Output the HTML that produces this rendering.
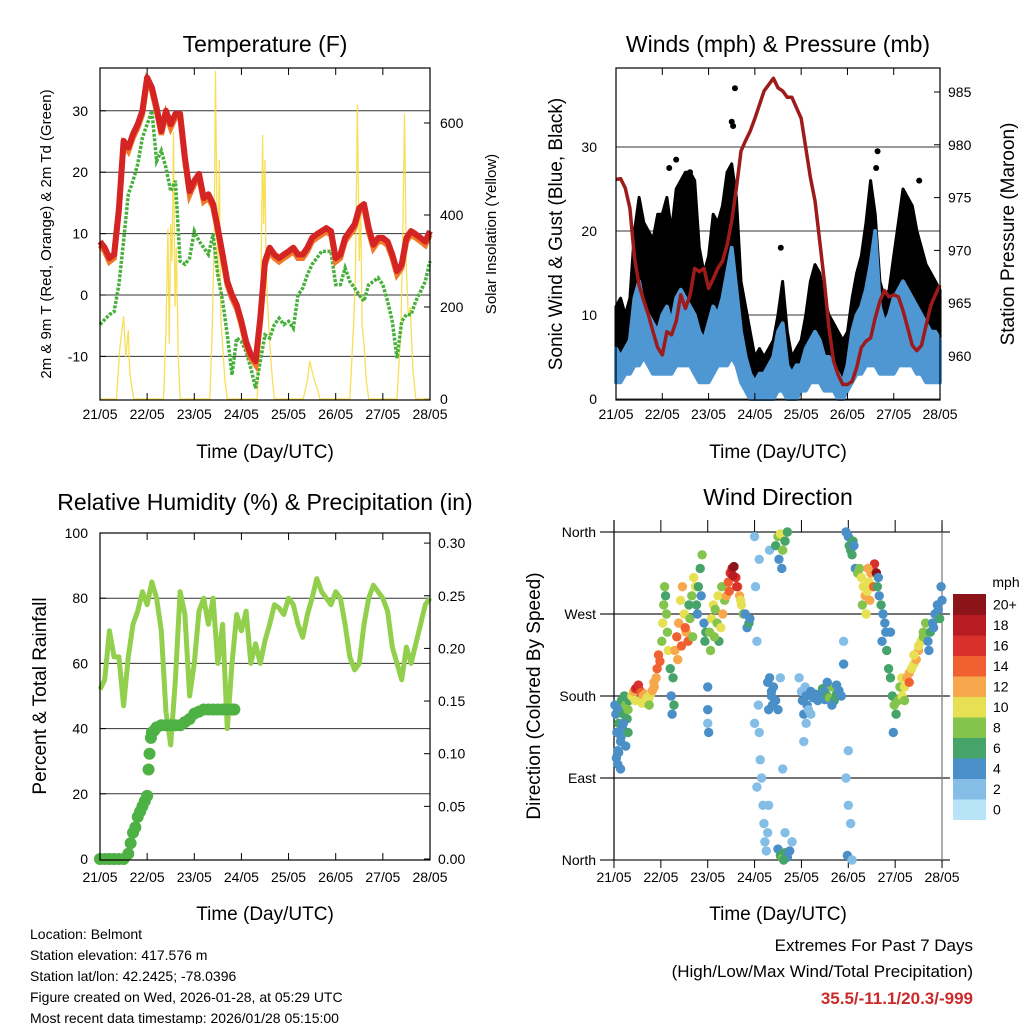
<!DOCTYPE html>
<html><head><meta charset="utf-8"><title>Weather Station Charts</title>
<style>
html,body{margin:0;padding:0;background:#fff;}
svg{display:block;font-family:"Liberation Sans",sans-serif;}
</style></head>
<body>
<svg id="root" width="1024" height="1024" viewBox="0 0 1024 1024" xmlns="http://www.w3.org/2000/svg">
<rect x="0" y="0" width="1024" height="1024" fill="#fff"/>
<text x="265" y="52" font-size="23" text-anchor="middle">Temperature (F)</text>
<text x="778" y="52" font-size="23" text-anchor="middle">Winds (mph) &amp; Pressure (mb)</text>
<text x="265" y="510" font-size="23" text-anchor="middle">Relative Humidity (%) &amp; Precipitation (in)</text>
<text x="778" y="505" font-size="23" text-anchor="middle">Wind Direction</text>
<text x="265" y="458" font-size="19" text-anchor="middle">Time (Day/UTC)</text>
<text x="778" y="458" font-size="19" text-anchor="middle">Time (Day/UTC)</text>
<text x="265" y="920" font-size="19" text-anchor="middle">Time (Day/UTC)</text>
<text x="778" y="920" font-size="19" text-anchor="middle">Time (Day/UTC)</text>
<text transform="translate(51,234) rotate(-90)" font-size="15" text-anchor="middle">2m &amp; 9m T (Red, Orange) &amp; 2m Td (Green)</text>
<text transform="translate(496,234) rotate(-90)" font-size="15" text-anchor="middle">Solar Insolation (Yellow)</text>
<text transform="translate(562,234) rotate(-90)" font-size="19" text-anchor="middle">Sonic Wind &amp; Gust (Blue, Black)</text>
<text transform="translate(1014,234) rotate(-90)" font-size="19" text-anchor="middle">Station Pressure (Maroon)</text>
<text transform="translate(46,696) rotate(-90)" font-size="19" text-anchor="middle">Percent &amp; Total Rainfall</text>
<text transform="translate(540,696) rotate(-90)" font-size="19" text-anchor="middle">Direction (Colored By Speed)</text>
<g font-size="14">
<text x="30" y="939">Location: Belmont</text>
<text x="30" y="960">Station elevation: 417.576 m</text>
<text x="30" y="981">Station lat/lon: 42.2425; -78.0396</text>
<text x="30" y="1002">Figure created on Wed, 2026-01-28, at 05:29 UTC</text>
<text x="30" y="1023">Most recent data timestamp: 2026/01/28 05:15:00</text>
</g>
<text x="973" y="951" font-size="17" text-anchor="end">Extremes For Past 7 Days</text>
<text x="973" y="977" font-size="17" text-anchor="end">(High/Low/Max Wind/Total Precipitation)</text>
<text x="973" y="1004" font-size="17" font-weight="bold" fill="#cc2a2a" text-anchor="end">35.5/-11.1/20.3/-999</text>
</svg>
<script>
// ---------- DATA ----------
const dayLabels = ["21/05","22/05","23/05","24/05","25/05","26/05","27/05","28/05"];
const tempTicks = [-10,0,10,20,30];
const solarTicks = [0,200,400,600];
const windTicks = [0,10,20,30];
const pressTicks = [960,965,970,975,980,985];
const rhTicks = [0,20,40,60,80,100];
const rainTicks = [0.00,0.05,0.10,0.15,0.20,0.25,0.30];
const rainTickLabels = ["0.00","0.05","0.10","0.15","0.20","0.25","0.30"];
const dirTicks = [0,90,180,270,360];
const dirTickLabels = ["North","East","South","West","North"];
const speedBinLabels = ["0","2","4","6","8","10","12","14","16","18","20+"];
const speedColors = ["#b8e4f8","#84bde6","#4a8fc8","#46a46a","#84c44c","#e6e052","#f8a84c","#f06030","#d8302a","#b81c22","#8c1418"];

const temp2m = [8.7,7.7,6,6.6,14,25.1,24,26.2,27.8,30,35.4,33.8,30.5,26.7,30,27.8,29.5,29.5,22.4,16.9,18.6,19.7,15.8,16.4,14.8,10.9,6.6,2.2,0,-1.6,-4.3,-7.6,-9.7,-10.8,-3.7,5.5,7.7,6.6,6,6.6,7.1,7.7,6.6,6.6,7.7,9.3,9.9,10.4,10.9,10.4,6,6.6,9.3,10.4,11.5,14.2,14.8,10.9,8.2,9.3,9.3,8.7,6.6,3.9,5,9.3,10.4,9.9,9.3,8.7,10.4];
const dew2m = [-4.8,-4,-3.2,-2.7,1.7,8.8,16.4,18.6,21.3,25.6,27.8,30,21.8,23.5,20.7,16.9,18.6,5.5,5,6,10.4,8.8,7.7,6.6,9.9,3.3,-1,-6.5,-13,-7,-7.6,-9.2,-11.9,-15.2,-10.8,-6.5,-7,-4.8,-3.8,-4.8,-4.3,-5.4,0,1.1,3.3,5,6,7.1,7.1,7.1,1.7,1.7,4.4,2.2,1.1,0,-1,1.7,2.2,2.8,1.7,-1,-4.3,-10.3,-4.3,-3.2,-3.2,-1,0.6,2.2,5.5];
const solarTimes = [0,0.35,0.42,0.5,0.55,0.6,0.63,0.68,0.72,1.35,1.4,1.44,1.47,1.5,1.53,1.56,1.59,1.62,1.66,1.7,2.33,2.38,2.42,2.45,2.48,2.5,2.53,2.56,2.6,2.65,2.7,3.33,3.4,3.45,3.47,3.5,3.52,3.55,3.6,3.66,3.7,4.31,4.4,4.45,4.5,4.55,4.62,4.66,5.3,5.38,5.42,5.46,5.5,5.53,5.56,5.6,5.65,5.7,6.3,6.38,6.42,6.46,6.5,6.54,6.58,6.64,6.7,7];
const solarValues = [0,0,110,180,90,150,60,20,0,0,150,370,120,380,300,580,200,330,90,0,0,150,330,713,400,260,520,180,120,40,0,0,120,574,380,520,300,220,120,40,0,0,40,83,60,40,20,0,0,160,280,640,300,420,160,120,40,0,0,150,330,620,280,180,200,60,0,0];
const gustLo = [5,4,5,6,8,9,8,7,8,8,10,10,9,10,10,11,10,9,6,5,6,8,9,10,10,11,9,5,3,2,1,1,1,2,2,3,3,2,1,1,2,3,4,4,4,3,3,2,1,1,2,4,6,7,9,10,10,7,6,6,7,8,9,9,9,8,7,5,5,6,5];
const gustHi = [11,12,10,12,20,24,21,20,19,22,22,24,20,25,26,27,27,26,18,15,17,22,21,23,27,28,24,14,11,8,5,6,5,6,7,10,14,8,5,6,7,10,14,16,15,12,10,9,8,7,8,12,15,17,21,26,22,14,12,13,17,21,25,24,23,20,18,16,15,14,13];
const gustOutTimes = [2.57,2.5,2.53,5.65,3.56,1.3,1.6,6.55,1.15,5.62];
const gustOutValues = [37,33,32.5,29.5,18,28.5,27,26,27.5,27.5];
const windLo = [2,2,3,3,4,4,5,4,3,3,3,3,3,4,4,4,4,3,2,2,2,3,4,4,4,5,4,2,1,0,0,0,0,0,0,1,1,0,0,0,1,1,2,2,2,1,1,1,0,0,1,2,3,3,4,4,4,3,3,3,3,4,4,4,4,3,3,2,2,2,2];
const windHi = [6,5,6,7,12,14,11,10,9,8,10,11,9,12,13,12,11,10,8,7,9,11,10,12,15,18,13,8,5,3,2,3,3,4,5,8,9,4,3,4,4,6,7,8,7,5,5,4,3,2,4,8,10,11,13,16,20,11,9,10,12,13,14,13,12,11,10,9,8,8,7];
const pressure = [976.7,976.8,975.9,974,969.3,966.7,965.2,963.9,962.3,960.8,960.1,962.3,962,963.3,965.8,964.5,965.8,968.3,968,968.3,966.4,967.3,968.3,969,970.5,972.8,975.9,979.4,980.4,981.3,982.5,983.8,985.1,985.7,986.3,985.4,985.1,984.5,984.5,983.5,982.5,979.7,976.9,974.7,970.9,967.1,962.7,959.5,958.2,957.3,957.3,957.6,958.9,960.8,961.4,961.7,963.6,965.2,966.2,965.6,965.8,965.6,964.3,962.7,961,960.5,961,962.9,964.8,965.8,966.7];
const rh = [52,55,70,62,62,47,62,72,76,82,78,85,80,70,45,35,55,82,75,50,60,76,80,72,80,60,72,40,60,75,70,76,60,66,60,67,72,78,77,75,80,78,72,68,75,80,86,82,80,78,82,80,72,62,58,60,72,80,84,82,80,76,65,60,55,65,60,66,72,78,80];
const rainTimes = [0,0.1,0.2,0.3,0.4,0.5,0.6,0.65,0.7,0.75,0.8,0.85,0.9,0.95,1.0,1.03,1.05,1.08,1.1,1.15,1.2,1.3,1.4,1.5,1.6,1.7,1.8,1.9,2.0,2.1,2.2,2.3,2.4,2.5,2.6,2.7,2.8,2.85];
const rainValues = [0,0,0,0,0,0,0.005,0.015,0.025,0.03,0.04,0.045,0.05,0.055,0.06,0.085,0.1,0.115,0.12,0.122,0.125,0.127,0.127,0.127,0.127,0.127,0.13,0.133,0.138,0.14,0.142,0.142,0.142,0.142,0.142,0.142,0.142,0.142];
const dirTimes = [0.02,0.04,0.06,0.08,0.1,0.12,0.14,0.16,0.18,0.2,0.22,0.25,0.28,0.3,0.32,0.05,0.1,0.15,0.2,0.25,0.3,0.08,0.14,
0.38,0.42,0.46,0.5,0.52,0.55,0.58,0.62,0.66,0.7,0.74,0.78,0.82,0.86,0.9,0.92,0.95,0.98,0.45,0.6,0.75,0.85,
1.02,1.04,1.06,1.08,1.1,1.12,1.14,1.16,1.2,1.22,1.24,1.26,1.28,
1.3,1.34,1.38,1.42,1.46,1.5,1.54,1.58,1.62,1.66,1.7,1.74,1.36,1.44,1.52,1.6,1.68,
1.76,1.8,1.84,1.88,1.92,1.96,1.78,1.86,1.94,2.0,2.0,2.02,2.0,
2.04,2.08,2.12,2.16,2.2,2.24,2.28,2.32,2.36,2.06,2.14,2.22,2.3,
2.4,2.44,2.48,2.52,2.56,2.6,2.64,2.68,2.72,2.76,2.46,2.54,2.62,2.7,2.8,2.84,2.88,2.9,
3.0,3.02,3.05,3.08,3.1,3.12,3.15,3.18,3.2,3.22,3.25,3.28,3.3,3.32,3.36,3.4,3.45,3.5,3.55,3.6,3.65,3.1,3.0,3.05,
3.28,3.32,3.36,3.4,3.44,3.3,3.38,
3.45,3.5,3.55,3.6,3.65,3.7,3.52,3.58,
3.5,3.55,3.6,3.65,3.7,3.75,3.8,3.62,
3.95,4.0,4.02,4.05,4.08,4.1,4.12,4.15,4.2,4.25,4.3,4.35,4.4,4.45,4.5,4.05,4.1,4.2,
4.5,4.55,4.6,4.65,4.7,4.75,4.8,4.85,4.55,4.65,4.75,4.9,4.9,
4.95,5.0,5.02,5.05,5.08,5.1,5.12,5.15,4.98,5.0,5.05,4.95,5.0,5.08,
5.2,5.24,5.28,5.32,5.36,5.4,5.44,5.48,5.52,5.56,5.6,5.3,5.38,5.46,5.54,5.42,
5.62,5.66,5.7,5.74,5.78,5.8,5.64,5.72,
5.82,5.86,5.9,5.94,5.98,6.02,6.06,6.1,6.14,5.9,5.96,
6.15,6.2,6.25,6.3,6.35,6.4,6.45,6.5,6.55,6.6,6.2,6.3,6.4,6.5,6.6,6.65,
6.7,6.75,6.8,6.85,6.9,6.95,7.0,6.72,6.82,6.92,6.98];
const dirDegrees = [170,160,140,120,150,165,130,175,145,160,180,170,155,165,175,112,118,135,150,125,140,105,100,
180,185,188,190,192,186,184,180,182,178,176,182,186,190,200,210,225,218,175,172,170,195,
240,260,280,300,290,270,250,230,210,180,160,200,170,
230,245,260,285,300,270,250,240,265,290,310,300,220,235,255,280,245,
280,300,320,335,260,250,270,290,240,190,165,140,150,
250,265,280,275,260,240,255,270,285,230,245,290,300,
290,305,315,320,322,310,300,290,280,270,295,312,300,285,270,255,260,265,
355,300,240,170,140,110,90,60,40,20,10,30,60,340,180,190,175,165,200,100,30,330,150,80,
195,200,185,190,175,165,170,
345,355,358,340,350,360,330,320,
12,5,2,8,3,10,20,0,
200,185,175,160,190,180,170,165,185,178,182,175,180,188,176,130,150,160,
185,180,178,190,175,182,186,180,195,170,192,240,215,
360,355,345,340,335,350,345,320,5,60,40,90,120,0,
315,320,310,300,290,295,305,315,320,325,315,280,270,285,300,320,
300,290,280,270,260,250,310,240,
230,210,200,180,170,160,175,190,200,250,140,
180,190,200,205,210,215,220,230,240,250,175,195,225,235,245,260,
240,250,260,270,280,265,285,230,255,275,300];
const dirSpeeds = [3,4,4,3,5,4,3,6,4,5,6,7,6,7,5,3,3,4,4,3,5,3,4,
9,12,15,17,16,15,14,12,11,10,10,9,12,11,12,13,14,13,10,9,8,12,
7,9,8,7,6,8,7,9,5,4,4,5,6,
11,13,12,10,11,9,12,13,8,7,9,10,12,14,13,6,7,
6,5,6,7,4,5,4,4,5,3,3,4,2,
8,9,10,8,7,6,9,11,8,7,8,9,7,
12,14,15,17,20,16,14,11,10,8,13,18,15,9,4,4,5,4,
1,1,1,1,1,1,1,2,1,2,2,1,1,1,3,4,3,4,2,1,1,1,1,1,
3,3,4,3,4,3,4,
6,8,10,7,6,5,4,3,
4,6,7,5,3,3,2,6,
2,2,3,3,2,3,4,2,3,4,4,3,4,5,4,2,2,2,
4,5,7,8,6,5,4,4,3,4,3,2,3,
3,4,5,6,6,5,4,3,3,1,1,1,1,2,
7,8,9,10,11,9,10,12,14,16,21,8,9,11,13,12,
5,4,5,4,3,4,3,4,
5,6,5,6,7,5,7,8,9,4,3,
9,10,11,12,10,9,12,11,9,8,8,13,10,9,7,7,
4,5,4,3,4,5,4,3,4,4,3];

// ---------- AXES ----------
const xT = d => 100 + d * 47.14;
const yT = v => 295 - v * 6.14;
const ySol = v => 399 - v * 0.46;
const xW = d => 616 + d * 46.29;
const yW = v => 399 - v * 8.4;
const yP = p => 356 - (p - 960) * 10.56;
const xR = d => 100 + d * 47.14;
const yR = v => 859 - v * 3.26;
const yRain = p => 859 - p * 1053;
const xD = d => 614 + d * 46.86;
const yD = deg => 860 - deg * 0.9111;
const stepT = i => i * 0.1;

const NS = "http://www.w3.org/2000/svg";
const root = document.getElementById("root");
function mk(tag, attrs, parent) {
  const el = document.createElementNS(NS, tag);
  for (const k in attrs) el.setAttribute(k, attrs[k]);
  (parent || root).appendChild(el);
  return el;
}
function group(name) {
  const g = mk("g", {});
  
  
  return g;
}
function txt(parent, x, y, s, anchor, size, name) {
  const t = mk("text", {x: x, y: y, "font-size": size, "text-anchor": anchor}, parent);
  t.textContent = s;
  
  
  return t;
}
function line(parent, x1, y1, x2, y2, stroke, w, name) {
  const l = mk("line", {x1: x1, y1: y1, x2: x2, y2: y2, stroke: stroke, "stroke-width": w}, parent);
  
  
  return l;
}
function polyPts(xs, ys) { return xs.map((x, i) => x.toFixed(1) + "," + ys[i].toFixed(1)).join(" "); }

function boxPanel(g, x0, y0, x1, y1, xf, namePrefix, labelY) {
  dayLabels.forEach((lab, i) => {
    const x = xf(i);
    line(g, x, y1, x, y1 - 7, "#000", 1, namePrefix + "-x-tick");
    line(g, x, y0, x, y0 + 7, "#000", 1, namePrefix + "-x-tick-top");
    txt(g, x, labelY, lab, "middle", 14, namePrefix + "-x-tick-label");
  });
  const r = mk("rect", {x: x0, y: y0, width: x1 - x0, height: y1 - y0, fill: "none", stroke: "#000", "stroke-width": 1.2}, g);
  
  
}

// ---------- TEMPERATURE PANEL ----------
(function () {
  const g = group("temperature-panel");
  tempTicks.forEach(v => {
    line(g, 100, yT(v), 430, yT(v), "#333", 1, "temp-gridline");
    line(g, 100, yT(v), 106, yT(v), "#000", 1, "temp-y-tick");
    txt(g, 88, yT(v) + 5, String(v), "end", 14, "temp-y-tick-label");
  });
  solarTicks.forEach(v => {
    line(g, 424, ySol(v), 430, ySol(v), "#000", 1, "solar-y-tick");
    txt(g, 440, ySol(v) + 5, String(v), "start", 14, "solar-y-tick-label");
  });
  const sol = mk("polyline", {points: polyPts(solarTimes.map(xT), solarValues.map(ySol)), fill: "none", stroke: "#f7d93c", "stroke-width": 1.3, opacity: 0.85}, g);
  
  
  const xs = temp2m.map((v, i) => xT(stepT(i)));
  const dew = mk("polyline", {points: polyPts(xs, dew2m.map(yT)), fill: "none", stroke: "#47b03c", "stroke-width": 3.5, "stroke-dasharray": "3 1.5"}, g);
  
  
  const t9 = mk("polyline", {points: polyPts(xs, temp2m.map(v => yT(v - 0.6))), fill: "none", stroke: "#f07a2a", "stroke-width": 5.5}, g);
  
  
  const t2 = mk("polyline", {points: polyPts(xs, temp2m.map(yT)), fill: "none", stroke: "#d42424", "stroke-width": 6, "stroke-linejoin": "round"}, g);
  
  
  boxPanel(g, 100, 68, 430, 400, xT, "temp", 419);
})();

// ---------- WIND PANEL ----------
(function () {
  const g = group("wind-panel");
  windTicks.forEach(v => {
    line(g, 616, yW(v), 940, yW(v), "#333", 1, "wind-gridline");
    txt(g, 597, yW(v) + 5, String(v), "end", 14, "wind-y-tick-label");
  });
  pressTicks.forEach(v => {
    line(g, 934, yP(v), 940, yP(v), "#000", 1, "pressure-y-tick");
    txt(g, 948, yP(v) + 5, String(v), "start", 14, "pressure-y-tick-label");
  });
  const xs = gustLo.map((v, i) => xW(stepT(i)));
  const gustPts = polyPts(xs, gustHi.map(yW)) + " " + polyPts(xs.slice().reverse(), gustLo.slice().reverse().map(yW));
  const gb = mk("polygon", {points: gustPts, fill: "#000", stroke: "#000", "stroke-width": 3, "stroke-linejoin": "round"}, g);
  
  
  gustOutTimes.forEach((t, i) => {
    const c = mk("circle", {cx: xW(t), cy: yW(gustOutValues[i]), r: 3, fill: "#000"}, g);
    
    
  });
  const windPts = polyPts(xs, windHi.map(yW)) + " " + polyPts(xs.slice().reverse(), windLo.slice().reverse().map(yW));
  const wb = mk("polygon", {points: windPts, fill: "#4f97d2", stroke: "#4f97d2", "stroke-width": 4, "stroke-linejoin": "round"}, g);
  
  
  const pl = mk("polyline", {points: polyPts(xs, pressure.map(yP)), fill: "none", stroke: "#9e1b1b", "stroke-width": 3.5, "stroke-linejoin": "round"}, g);
  
  
  boxPanel(g, 616, 68, 940, 400, xW, "wind", 419);
})();

// ---------- RH PANEL ----------
(function () {
  const g = group("humidity-panel");
  rhTicks.forEach(v => {
    if (v > 0 && v < 100) line(g, 100, yR(v), 430, yR(v), "#333", 1, "rh-gridline");
    line(g, 100, yR(v), 106, yR(v), "#000", 1, "rh-y-tick");
    txt(g, 88, yR(v) + 5, String(v), "end", 14, "rh-y-tick-label");
  });
  rainTicks.forEach((v, i) => {
    line(g, 424, yRain(v), 430, yRain(v), "#000", 1, "rain-y-tick");
    txt(g, 438, yRain(v) + 5, rainTickLabels[i], "start", 14, "rain-y-tick-label");
  });
  const xs = rh.map((v, i) => xR(stepT(i)));
  const rl = mk("polyline", {points: polyPts(xs, rh.map(yR)), fill: "none", stroke: "#92cf4c", "stroke-width": 5, "stroke-linejoin": "round"}, g);
  
  
  rainTimes.forEach((t, i) => {
    const c = mk("circle", {cx: xR(t), cy: yRain(rainValues[i]), r: 6, fill: "#4db143"}, g);
    
    
  });
  boxPanel(g, 100, 533, 430, 860, xR, "rh", 882);
})();

// ---------- WIND DIRECTION PANEL ----------
(function () {
  const g = group("wind-direction-panel");
  dirTicks.forEach((v, i) => {
    line(g, 600, yD(v), 950, yD(v), "#222", 1.2, "dir-gridline");
    txt(g, 596, yD(v) + 5, dirTickLabels[i], "end", 14, "dir-y-tick-label");
  });
  line(g, 614, 520, 614, 860, "#000", 1.2, "dir-left-axis");
  line(g, xD(7), 525, xD(7), 862, "#777", 1.2, "dir-right-line");
  dayLabels.forEach((lab, i) => {
    line(g, xD(i), 520, xD(i), 532, "#000", 1, "dir-x-tick-top");
    line(g, xD(i), 860, xD(i), 868, "#000", 1, "dir-x-tick");
    txt(g, xD(i), 882, lab, "middle", 14, "dir-x-tick-label");
  });
  dirTimes.forEach((t, i) => {
    const idx = Math.min(10, Math.round(dirSpeeds[i] / 2));
    const c = mk("circle", {cx: xD(t), cy: yD(dirDegrees[i]), r: 4.7, fill: speedColors[idx]}, g);
    
    
  });
  const cb = group("speed-colorbar");
  const bh = 20.5;
  speedColors.forEach((col, i) => {
    const y = 594 + (10 - i) * bh;
    const r = mk("rect", {x: 953, y: y, width: 33, height: bh + 0.5, fill: col}, cb);
    
    
    txt(cb, 993, y + bh / 2 + 5, speedBinLabels[i], "start", 14, "colorbar-label");
  });
  txt(cb, 1006, 587, "mph", "middle", 14, "colorbar-unit");
})();
</script>
</body></html>
